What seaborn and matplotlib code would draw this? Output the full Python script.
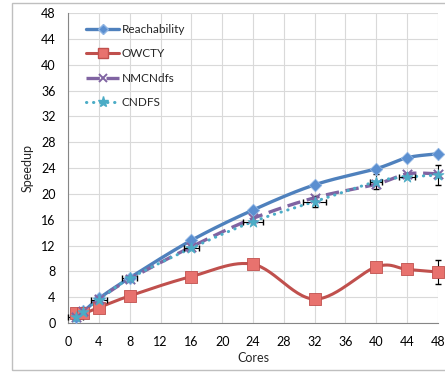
import numpy as np
import matplotlib
matplotlib.use("Agg")
import matplotlib.pyplot as plt
from matplotlib.lines import Line2D
from matplotlib.patches import Rectangle
import seaborn as sns

# Data
cores = [1, 2, 4, 8, 16, 24, 32, 40, 44, 48]
reachability = [1.0, 1.8, 3.8, 7.0, 12.8, 17.5, 21.4, 23.9, 25.6, 26.2]
owcty = [1.6, 1.5, 2.4, 4.2, 7.2, 9.1, 3.7, 8.7, 8.3, 7.9]
nmcndfs = [1.0, 1.8, 3.7, 6.8, 11.8, 16.2, 19.4, 21.5, 23.1, 23.1]
cndfs = [0.9, 1.7, 3.6, 6.9, 11.6, 15.7, 18.8, 21.9, 22.6, 22.9]

# error bars on the ndfs series
cndfs_xerr = [1.0, 0.0, 1.0, 1.0, 1.0, 1.3, 1.5, 0.8, 1.0, 0.0]
cndfs_yerr = [0.0, 0.0, 0.0, 0.0, 0.0, 0.0, 0.9, 1.1, 0.0, 1.5]
owcty_yerr = [0.0, 0.0, 0.0, 0.0, 0.0, 0.0, 0.0, 0.0, 0.0, 1.8]

x_ticks = list(range(0, 49, 4))
y_ticks = list(range(0, 49, 4))


def smooth(xs, ys, n=30):
    # Excel-style smoothed line (Catmull-Rom through the points)
    p = np.column_stack([xs, ys]).astype(float)
    p = np.vstack([p[0], p, p[-1]])
    out = []
    t = np.linspace(0, 1, n)[:, None]
    for i in range(1, len(p) - 2):
        p0, p1, p2, p3 = p[i - 1], p[i], p[i + 1], p[i + 2]
        c = 0.5 * ((2 * p1) + (-p0 + p2) * t + (2 * p0 - 5 * p1 + 4 * p2 - p3) * t ** 2
                   + (-p0 + 3 * p1 - 3 * p2 + p3) * t ** 3)
        out.append(c)
    c = np.vstack(out)
    return c[:, 0], c[:, 1]


sns.set_style("whitegrid")
plt.rcParams["font.family"] = ["Lato", "DejaVu Sans"]

fig = plt.figure(figsize=(4.45, 3.73), dpi=100)
ax = fig.add_axes([0.153, 0.134, 0.831, 0.831])

blue = "#4F81BD"
red = "#C0504D"
purple = "#8064A2"
cyan = "#4BACC6"

sx, sy = smooth(cores, reachability)
ax.plot(sx, sy, color=blue, lw=2.4, zorder=3, clip_on=False)
sx, sy = smooth(cores, owcty)
ax.plot(sx, sy, color=red, lw=2.2, zorder=3, clip_on=False)
sx, sy = smooth(cores, nmcndfs)
ax.plot(sx, sy, color=purple, lw=2.4, ls=(0, (4, 2)), zorder=3, clip_on=False)
sx, sy = smooth(cores, cndfs)
ax.plot(sx, sy, color=cyan, lw=2.2, ls=(0, (0.1, 2.2)), dash_capstyle="round",
        zorder=3, clip_on=False)

eb1 = ax.errorbar(cores, cndfs, xerr=cndfs_xerr, yerr=cndfs_yerr, fmt="none",
                  ecolor="black", elinewidth=0.8, capsize=2, zorder=4)
eb2 = ax.errorbar(cores, owcty, yerr=owcty_yerr, fmt="none",
                  ecolor="black", elinewidth=0.8, capsize=2, zorder=4)
for eb in (eb1, eb2):
    for art in eb.lines[1] + eb.lines[2]:
        art.set_clip_on(False)

sns.scatterplot(x=cores, y=reachability, marker="D", s=40, color="#5B8FD0",
                edgecolor="#8DB3E2", linewidth=0.6, ax=ax, zorder=5, clip_on=False)
sns.scatterplot(x=cores, y=owcty, marker="s", s=75, color="#E8726E",
                edgecolor="#C0504D", linewidth=0.6, ax=ax, zorder=5, clip_on=False)
sns.scatterplot(x=cores, y=nmcndfs, marker="x", s=45, color=purple,
                linewidth=1.4, ax=ax, zorder=5, clip_on=False)
sns.scatterplot(x=cores, y=cndfs, marker="*", s=70, color=cyan,
                edgecolor=cyan, linewidth=0.5, ax=ax, zorder=6, clip_on=False)

ax.set_xlim(0, 48)
ax.set_ylim(0, 48)
ax.set_xticks(x_ticks)
ax.set_yticks(y_ticks)
ax.grid(True, color="#D9D9D9", lw=0.8)
for side in ["top", "right"]:
    ax.spines[side].set_visible(False)
for side in ["left", "bottom"]:
    ax.spines[side].set_color("#868686")
    ax.spines[side].set_linewidth(0.8)
ax.tick_params(axis="both", direction="out", length=3, width=0.8, color="#868686",
               labelsize=9, labelcolor="black", pad=6)
ax.set_xlabel("Cores", fontsize=9, labelpad=3)
ax.set_ylabel("Speedup", fontsize=9, labelpad=5)

handles = [
    Line2D([], [], color=blue, lw=2.4, marker="D", markersize=5,
           markerfacecolor="#5B8FD0", markeredgecolor="#8DB3E2"),
    Line2D([], [], color=red, lw=2.2, marker="s", markersize=7,
           markerfacecolor="#E8726E", markeredgecolor=red),
    Line2D([], [], color=purple, lw=2.4, ls=(0, (4, 2)), marker="x", markersize=6,
           markeredgewidth=1.4),
    Line2D([], [], color=cyan, lw=2.2, ls=(0, (0.1, 2.2)), dash_capstyle="round",
           marker="*", markersize=8),
]
ax.legend(handles, ["Reachability", "OWCTY", "NMCNdfs", "CNDFS"], loc="upper left",
          bbox_to_anchor=(0.02, 1.0), frameon=False, fontsize=8.5, handlelength=2.8,
          handletextpad=0.2, labelspacing=1.15)

fig.patches.append(Rectangle((12 / 445, 3 / 373), 1.0, (370 - 3) / 373,
                             transform=fig.transFigure, fill=False,
                             edgecolor="#BFBFBF", lw=1.0))

fig.savefig("out.png", dpi=100)
